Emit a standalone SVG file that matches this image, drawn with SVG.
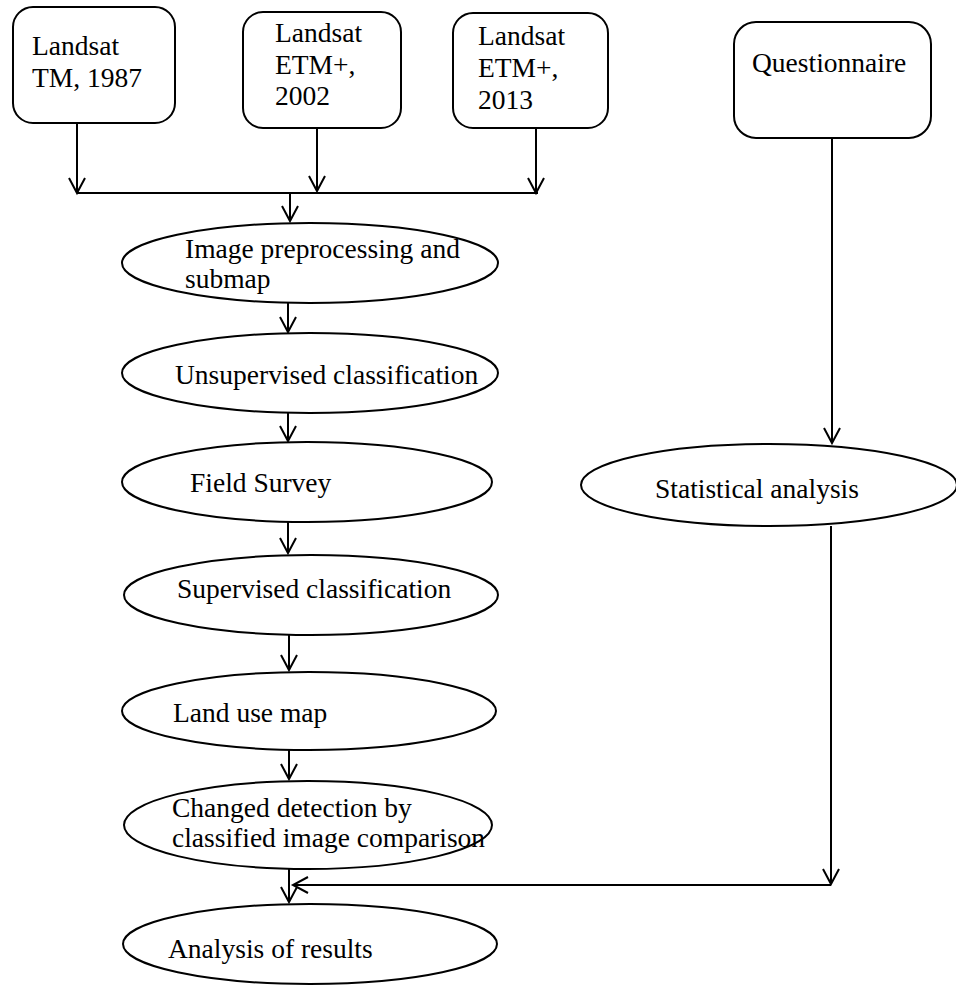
<svg xmlns="http://www.w3.org/2000/svg" width="956" height="991" viewBox="0 0 956 991">
<style>
.s{fill:#fff;stroke:#000;stroke-width:2}
.t{font-family:"Liberation Serif","Times New Roman",serif;font-size:27.5px;fill:#000}
.c{fill:none;stroke:#000;stroke-width:2}
</style>
<defs>
<marker id="ah" markerUnits="userSpaceOnUse" markerWidth="20" markerHeight="20" refX="16" refY="9" orient="auto" overflow="visible">
<path d="M1,1 L16,9 L1,17" fill="none" stroke="#000" stroke-width="2"/>
</marker>
</defs>
<rect width="956" height="991" fill="#fff"/>
<g id="connectors">
<path class="c" d="M77,123 V193" marker-end="url(#ah)"/>
<path class="c" d="M317,128 V191" marker-end="url(#ah)"/>
<path class="c" d="M536,128 V193" marker-end="url(#ah)"/>
<path class="c" d="M77,193 H538"/>
<path class="c" d="M290,193 V221" marker-end="url(#ah)"/>
<path class="c" d="M288,303 V332" marker-end="url(#ah)"/>
<path class="c" d="M288,413 V441" marker-end="url(#ah)"/>
<path class="c" d="M288,522 V553" marker-end="url(#ah)"/>
<path class="c" d="M289,635 V670" marker-end="url(#ah)"/>
<path class="c" d="M289,750 V779" marker-end="url(#ah)"/>
<path class="c" d="M289,869 V902" marker-end="url(#ah)"/>
<path class="c" d="M832,138 V443" marker-end="url(#ah)"/>
<path class="c" d="M831,526 V884" marker-end="url(#ah)"/>
<path class="c" d="M831,885 H293" marker-end="url(#ah)"/>
</g>
<g id="landsat1987">
<rect class="s" x="13" y="7" width="162" height="116" rx="20"/>
<text class="t" x="32" y="55">Landsat</text>
<text class="t" x="32" y="87">TM, 1987</text>
</g>
<g id="landsat2002">
<rect class="s" x="243" y="12" width="158" height="116" rx="20"/>
<text class="t" x="275" y="42">Landsat</text>
<text class="t" x="275" y="74">ETM+,</text>
<text class="t" x="275" y="105">2002</text>
</g>
<g id="landsat2013">
<rect class="s" x="453" y="13" width="155" height="115" rx="20"/>
<text class="t" x="478" y="45">Landsat</text>
<text class="t" x="478" y="77">ETM+,</text>
<text class="t" x="478" y="109">2013</text>
</g>
<g id="questionnaire">
<rect class="s" x="734" y="22" width="197" height="116" rx="22"/>
<text class="t" x="752" y="72">Questionnaire</text>
</g>
<g id="preprocessing">
<ellipse class="s" cx="310" cy="263" rx="188" ry="40"/>
<text class="t" x="185" y="258">Image preprocessing and</text>
<text class="t" x="185" y="288">submap</text>
</g>
<g id="unsupervised">
<ellipse class="s" cx="310" cy="373" rx="188" ry="40"/>
<text class="t" x="175" y="384">Unsupervised classification</text>
</g>
<g id="fieldsurvey">
<ellipse class="s" cx="307" cy="482" rx="185" ry="40"/>
<text class="t" x="190" y="492">Field Survey</text>
</g>
<g id="supervised">
<ellipse class="s" cx="311" cy="595" rx="187" ry="40"/>
<text class="t" x="177" y="598">Supervised classification</text>
</g>
<g id="landuse">
<ellipse class="s" cx="309" cy="711" rx="187" ry="39"/>
<text class="t" x="173" y="722">Land use map</text>
</g>
<g id="changedetection">
<ellipse class="s" cx="308" cy="825" rx="184" ry="44"/>
<text class="t" x="172" y="817">Changed detection by</text>
<text class="t" x="172" y="847">classified image comparison</text>
</g>
<g id="analysis">
<ellipse class="s" cx="310" cy="944" rx="187" ry="40"/>
<text class="t" x="168" y="958">Analysis of results</text>
</g>
<g id="statistical">
<ellipse class="s" cx="769" cy="485" rx="188" ry="41"/>
<text class="t" x="655" y="498">Statistical analysis</text>
</g>
</svg>
